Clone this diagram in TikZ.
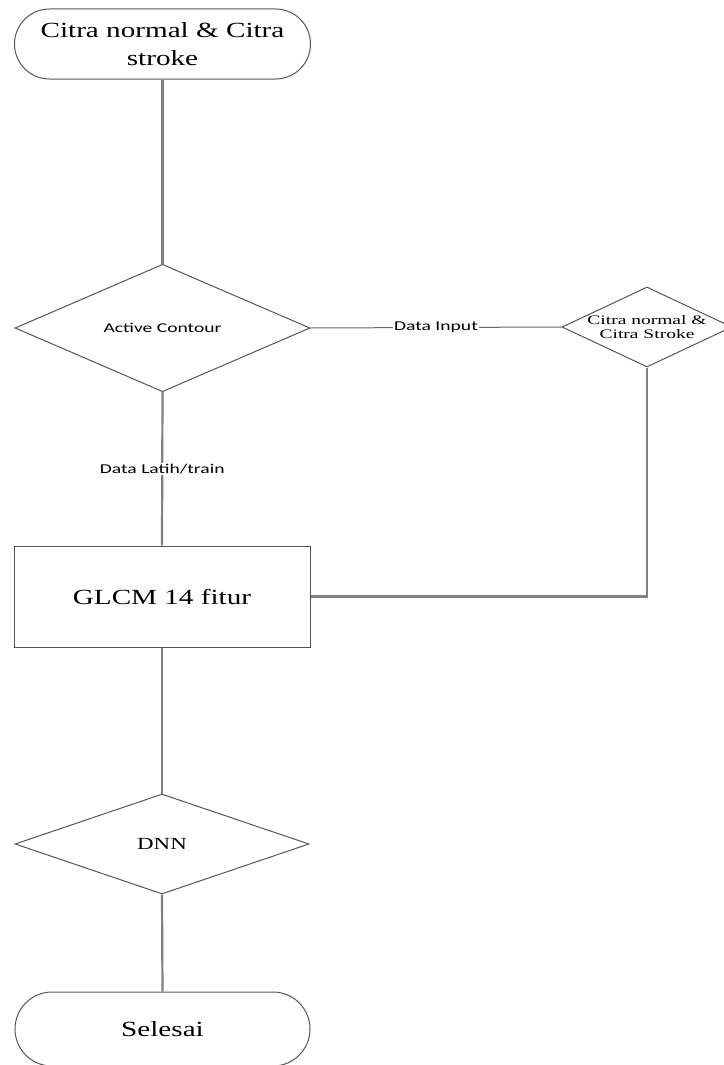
\documentclass[tikz,border=0pt]{standalone}
\usepackage{fontspec}
\usetikzlibrary{shapes.geometric}
\newfontfamily\serifx[FakeStretch=1.35]{Liberation Serif}
\newfontfamily\serifn[FakeStretch=1.5]{Liberation Serif}
\newfontfamily\sansx[FakeStretch=1.45]{Carlito}
\definecolor{linegray}{RGB}{128,128,128}
\definecolor{shapegray}{RGB}{85,85,85}
\tikzset{
  terminal/.style={draw=shapegray, line width=1pt, rounded corners=35pt, minimum width=296pt, inner sep=0pt, align=center, font=\serifx\fontsize{21.6}{28}\selectfont},
  decision/.style={diamond, draw=shapegray, line width=1pt, inner sep=0pt, align=center},
  process/.style={draw=shapegray, line width=1pt, minimum width=296pt, minimum height=101pt, inner sep=0pt, font=\serifx\fontsize{21.6}{28}\selectfont},
  conn/.style={draw=linegray, line width=2.2pt},
  hconn/.style={draw=shapegray!90, line width=1pt},
  lbl/.style={fill=white, inner sep=1pt, font=\sansx\fontsize{13.5}{16}\selectfont}
}
\begin{document}
\begin{tikzpicture}[x=1pt,y=-1pt]
\useasboundingbox (0,0) rectangle (723,1065);
\node[terminal, minimum height=70pt] (start) at (162.5,44) {Citra normal \& Citra\\stroke};
\node[decision, minimum width=295pt, minimum height=119pt, font=\sansx\fontsize{13.5}{16}\selectfont] (ac) at (162.5,328) {Active Contour};
\node[decision, minimum width=170pt, minimum height=80pt,
  label={[align=center, inner sep=0pt, font=\serifn\fontsize{13}{14}\selectfont]center:Citra normal \&\\Citra Stroke}] (ci) at (647,327) {};
\node[process] (glcm) at (162,596.5) {GLCM 14 fitur};
\node[decision, minimum width=294pt, minimum height=100pt, font=\serifx\fontsize{17}{20}\selectfont] (dnn) at (162,844) {DNN};
\node[terminal, rounded corners=37pt, minimum height=74pt, minimum width=295pt] (end) at (162.5,1029) {Selesai};
\coordinate (bend) at (ci.south |- glcm.east);
\draw[conn] (start.south) -- (ac.north);
\draw[conn] (ac.south) -- node[lbl] {Data Latih/train} (glcm.north);
\draw[hconn] (ac.east) -- node[lbl] {Data Input} (ci.west);
\draw[conn] (ci.south) -- (bend) -- (glcm.east);
\draw[conn] (glcm.south) -- (dnn.north);
\draw[conn] (dnn.south) -- (end.north);
\end{tikzpicture}
\end{document}
